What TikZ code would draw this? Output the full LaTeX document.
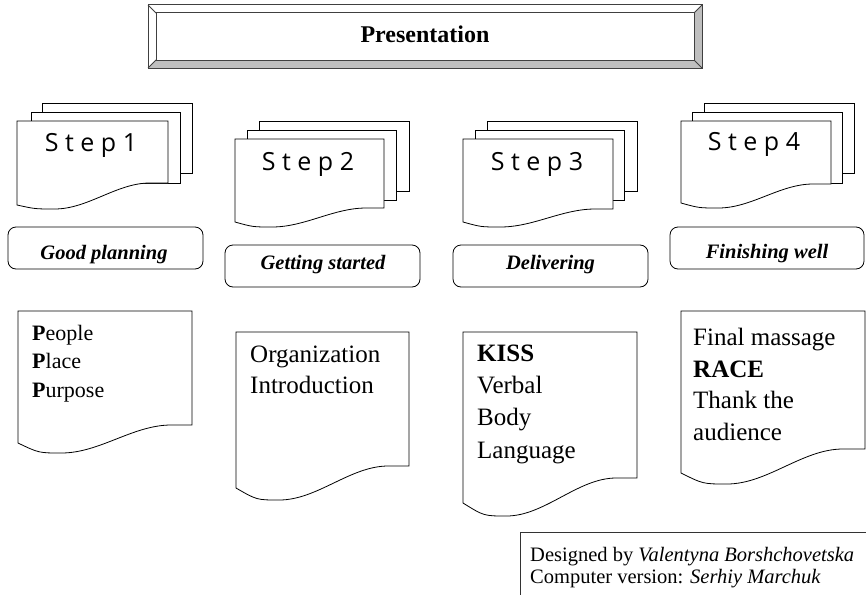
\documentclass[tikz,border=0pt]{standalone}
\usepackage{fontspec}
\setmainfont{Liberation Serif}
\newfontfamily\stepfont{Open Sans}
\newcommand{\docshape}[6]{%
  \pgfmathsetmacro{\docW}{#3-#1}%
  \pgfmathsetmacro{\docA}{#3-0.12*\docW}%
  \pgfmathsetmacro{\docB}{#3-0.34*\docW}%
  \pgfmathsetmacro{\docC}{#1+0.47*\docW}%
  \pgfmathsetmacro{\docM}{#1+0.25*\docW}%
  \pgfmathsetmacro{\docD}{#1+0.12*\docW}%
  \filldraw[page] (#1,#2) -- (#3,#2) -- (#3,#4) -- (\docA,#4)
    .. controls (\docB,#4) and (\docC,#6) .. (\docM,#6)
    .. controls (\docD,#6) .. (#1,#5) -- cycle;
}
\begin{document}
\begin{tikzpicture}[x=1pt,y=-1pt,
  page/.style={draw=black,fill=white,line width=0.8pt},
  lbl/.style={draw=black,fill=white,line width=0.8pt,rounded corners=8pt},
  steptxt/.style={font=\stepfont\fontsize{25}{25}\selectfont,inner sep=0pt,anchor=base},
  lbltxt/.style={font=\bfseries\itshape\fontsize{20.5}{20.5}\selectfont,inner sep=0pt,anchor=base},
  bodytxt/.style={font=\fontsize{25}{25}\selectfont,anchor=base west,inner sep=0pt},
  smalltxt/.style={font=\fontsize{22}{22}\selectfont,anchor=base west,inner sep=0pt},
  credtxt/.style={font=\fontsize{20.5}{20.5}\selectfont,anchor=base west,inner sep=0pt},
  bevel/.style={draw=black!75,line width=1pt}]
\useasboundingbox (0,0) rectangle (866,594);
% title bevel box
\fill[white] (148,5) rectangle (702,68);
\fill[black!25] (148,68) -- (156,60) -- (694,60) -- (694,13) -- (702,5) -- (702,68) -- cycle;
\draw[bevel] (148,5) rectangle (702,68);
\draw[bevel] (156,13) rectangle (694,60);
\draw[bevel] (148,5) -- (156,13) (702,5) -- (694,13) (148,68) -- (156,60) (702,68) -- (694,60);
\node[font=\bfseries\fontsize{24}{24}\selectfont,inner sep=0pt,anchor=base] (title) at (425,42) {Presentation};
% step stacks
\filldraw[page] (42,103) rectangle (192,173);
\filldraw[page] (31,112) rectangle (180,183);
\docshape{17}{121}{168}{183}{205}{209}
\node[steptxt] (s1) at (91,151) {S t e p 1};
\filldraw[page] (259,121) rectangle (409,191);
\filldraw[page] (247,130) rectangle (396,200);
\docshape{235}{139}{384}{208}{222}{227}
\node[steptxt] (s2) at (308,170) {S t e p 2};
\filldraw[page] (487,121) rectangle (637,191);
\filldraw[page] (475,130) rectangle (624,200);
\docshape{463}{139}{613}{209}{222}{227}
\node[steptxt] (s3) at (537,170) {S t e p 3};
\filldraw[page] (704,103) rectangle (854,173);
\filldraw[page] (692,112) rectangle (842,183);
\docshape{681}{121}{831}{184}{203}{208}
\node[steptxt] (s4) at (754,150) {S t e p 4};
% labels
\draw[lbl] (8,227) rectangle (203,269);
\node[lbltxt] (l1) at (104,259) {Good planning};
\draw[lbl] (225,245) rectangle (420,287);
\node[lbltxt] (l2) at (323,269) {Getting started};
\draw[lbl] (453,245) rectangle (648,287);
\node[lbltxt] (l3) at (550.5,269) {Delivering};
\draw[lbl] (670,227) rectangle (864,269);
\node[lbltxt] (l4) at (767,258) {Finishing well};
% bottom documents
\docshape{18}{311}{192}{425}{443}{453}
\node[smalltxt] (a1) at (32,340) {\textbf{P}eople};
\node[smalltxt] (a2) at (32,368) {\textbf{P}lace};
\node[smalltxt] (a3) at (32,397) {\textbf{P}urpose};
\docshape{236}{332}{409}{466}{488}{500}
\node[bodytxt] (b1) at (250,362) {Organization};
\node[bodytxt] (b2) at (250,393) {Introduction};
\docshape{463}{332}{637}{478}{503}{516}
\node[bodytxt] (c1) at (477,361) {\textbf{KISS}};
\node[bodytxt] (c2) at (477,393) {Verbal};
\node[bodytxt] (c3) at (477,425) {Body};
\node[bodytxt] (c4) at (477,458) {Language};
\docshape{681}{311}{865}{449}{473}{484}
\node[bodytxt] (d1) at (693,345) {Final massage};
\node[bodytxt] (d2) at (693,377) {\textbf{RACE}};
\node[bodytxt] (d3) at (693,408) {Thank the};
\node[bodytxt] (d4) at (693,440) {audience};
% credits
\draw[line width=0.9pt,black!80] (520,600) -- (520,532) -- (870,532);
\node[credtxt] (cr1) at (530,561) {Designed by \textit{Valentyna Borshchovetska}};
\node[credtxt] (cr2) at (530,583) {Computer version: \textit{Serhiy Marchuk}};
\end{tikzpicture}
\end{document}
